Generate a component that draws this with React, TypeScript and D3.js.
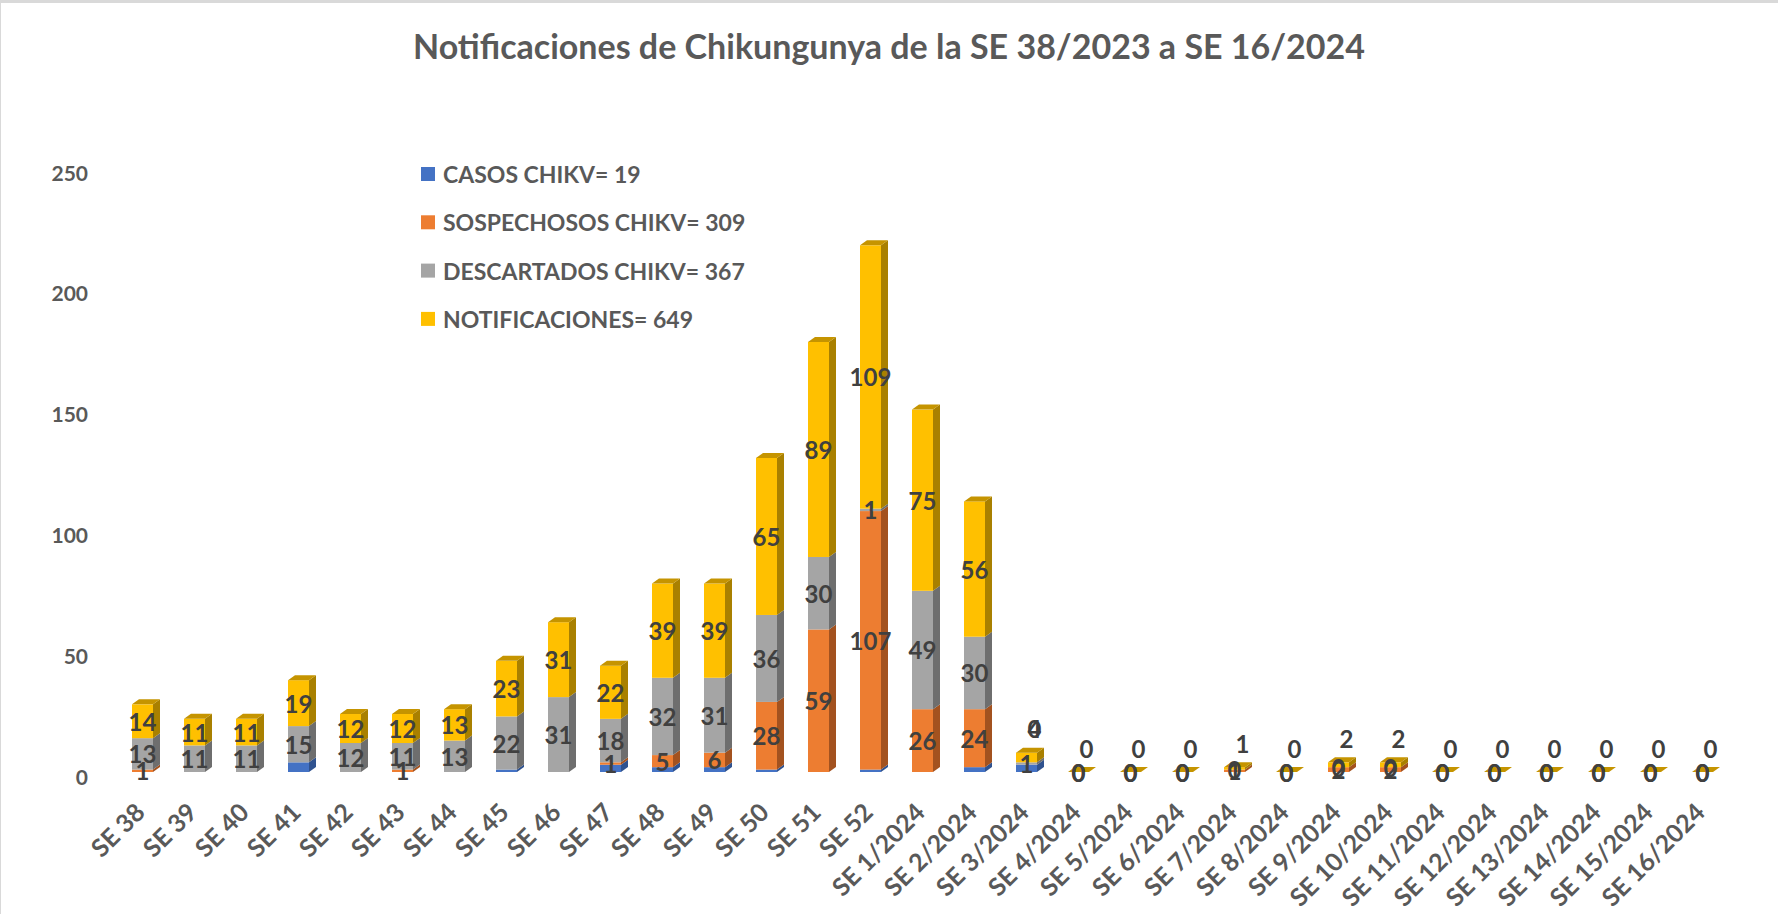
import * as d3 from "d3";

// weeks and stacked series (null = blank cell, no label)
const weeks = [
  "SE 38", "SE 39", "SE 40", "SE 41", "SE 42", "SE 43", "SE 44", "SE 45", "SE 46", "SE 47",
  "SE 48", "SE 49", "SE 50", "SE 51", "SE 52",
  "SE 1/2024", "SE 2/2024", "SE 3/2024", "SE 4/2024", "SE 5/2024", "SE 6/2024", "SE 7/2024",
  "SE 8/2024", "SE 9/2024", "SE 10/2024", "SE 11/2024", "SE 12/2024", "SE 13/2024",
  "SE 14/2024", "SE 15/2024", "SE 16/2024",
];

const casos = [null, null, null, 4, null, null, null, 1, null, 3, 2, 2, 1, null, 1, null, 2, 3, 0, 0, 0, 0, 0, 0, 0, 0, 0, 0, 0, 0, 0];
const sospechosos = [1, null, null, null, null, 1, null, null, null, 1, 5, 6, 28, 59, 107, 26, 24, 0, 0, 0, 0, 1, 0, 2, 2, 0, 0, 0, 0, 0, 0];
const descartados = [13, 11, 11, 15, 12, 11, 13, 22, 31, 18, 32, 31, 36, 30, 1, 49, 30, 1, 0, 0, 0, 0, 0, 0, 0, 0, 0, 0, 0, 0, 0];
const notificaciones = [14, 11, 11, 19, 12, 12, 13, 23, 31, 22, 39, 39, 65, 89, 109, 75, 56, 4, 0, 0, 0, 1, 0, 2, 2, 0, 0, 0, 0, 0, 0];

const legendLabels = ["CASOS CHIKV= 19", "SOSPECHOSOS CHIKV= 309", "DESCARTADOS CHIKV= 367", "NOTIFICACIONES= 649"];
const yTicks = [0, 50, 100, 150, 200, 250];

const series = [
  { values: casos, front: "#4472C4", side: "#2F528F", labels: false },
  { values: sospechosos, front: "#ED7D31", side: "#A3521F", labels: true },
  { values: descartados, front: "#A5A5A5", side: "#6E6E6E", labels: true },
  { values: notificaciones, front: "#FFC000", side: "#A98000", labels: true },
];
const topFace = "#C59400";

const FONT = "Lato, 'Open Sans', sans-serif";
const TEXT = "#595959";
const LABEL = "#404040";

export default function App() {
  const width = 1778;
  const height = 914;
  const x = d3.scalePoint<string>().domain(weeks).range([142.5, 1702.5]);
  const y = d3.scaleLinear().domain([0, 250]).range([772, 168]);
  const bw = 21;
  const dx = 7;
  const dy = 5;

  const stack = d3
    .stack<number>()
    .keys(series.map((_, i) => String(i)))
    .value((i, key) => series[+key].values[i] ?? 0)(weeks.map((_, i) => i));

  const shapes: JSX.Element[] = [];
  const labels: JSX.Element[] = [];

  weeks.forEach((w, i) => {
    const cx = x(w)!;
    const xl = cx - bw / 2;
    const xr = cx + bw / 2;
    let topY = y(0);
    stack.forEach((layer, s) => {
      const [v0, v1] = layer[i];
      if (v1 > v0) {
        const y0 = y(v0);
        const y1 = y(v1);
        shapes.push(
          <g key={`b${i}-${s}`}>
            <polygon
              points={`${xr},${y1} ${xr + dx},${y1 - dy} ${xr + dx},${y0 - dy} ${xr},${y0}`}
              fill={series[s].side}
            />
            <rect x={xl} y={y1} width={bw} height={y0 - y1} fill={series[s].front} />
          </g>
        );
        topY = y1;
      }
    });
    // top face of the whole stack
    shapes.push(
      <polygon
        key={`t${i}`}
        points={`${xl},${topY} ${xl + dx},${topY - dy} ${xr + dx},${topY - dy} ${xr},${topY}`}
        fill={topFace}
      />
    );
    stack.forEach((layer, s) => {
      const [v0, v1] = layer[i];
      const v = series[s].values[i];
      if (!series[s].labels || v === null) return;
      const above = (s === 3 && v <= 4) || (s === 1 && v === 0 && v0 > 0);
      labels.push(
        <text
          key={`l${i}-${s}`}
          x={above ? cx + 8 : cx}
          y={above ? topY - 24 : (y(v0) + y(v1)) / 2}
          textAnchor="middle"
          dominantBaseline="central"
          fontFamily={FONT}
          fontWeight={700}
          fontSize={24}
          fill={LABEL}
        >
          {v}
        </text>
      );
    });
  });

  return (
    <svg
      width={width}
      height={height}
      style={{ position: "absolute", left: 0, top: 0, background: "#fff" }}
    >
      <line x1={0} y1={1.5} x2={width} y2={1.5} stroke="#D9D9D9" strokeWidth={3} />
      <line x1={0.5} y1={0} x2={0.5} y2={height} stroke="#D9D9D9" strokeWidth={1} />

      <text
        x={889}
        y={45}
        textAnchor="middle"
        dominantBaseline="central"
        fontFamily={FONT}
        fontWeight={700}
        fontSize={34}
        fill={TEXT}
      >
        Notificaciones de Chikungunya de la SE 38/2023 a SE 16/2024
      </text>

      {yTicks.map((t) => (
        <text
          key={t}
          x={88}
          y={y(t) + 4}
          textAnchor="end"
          dominantBaseline="central"
          fontFamily={FONT}
          fontWeight={700}
          fontSize={21}
          fill={TEXT}
        >
          {t}
        </text>
      ))}

      {shapes}
      {labels}

      {weeks.map((w) => (
        <text
          key={w}
          transform={`translate(${x(w)! + 4},${814}) rotate(-45)`}
          textAnchor="end"
          fontFamily={FONT}
          fontWeight={700}
          fontSize={25}
          fill={TEXT}
        >
          {w}
        </text>
      ))}

      {legendLabels.map((l, i) => (
        <g key={l} transform={`translate(421,${174 + i * 48.3})`}>
          <rect x={0} y={-7} width={14} height={14} fill={series[i].front} />
          <text
            x={22}
            y={0}
            dominantBaseline="central"
            fontFamily={FONT}
            fontWeight={700}
            fontSize={23}
            fill={TEXT}
          >
            {l}
          </text>
        </g>
      ))}
    </svg>
  );
}
